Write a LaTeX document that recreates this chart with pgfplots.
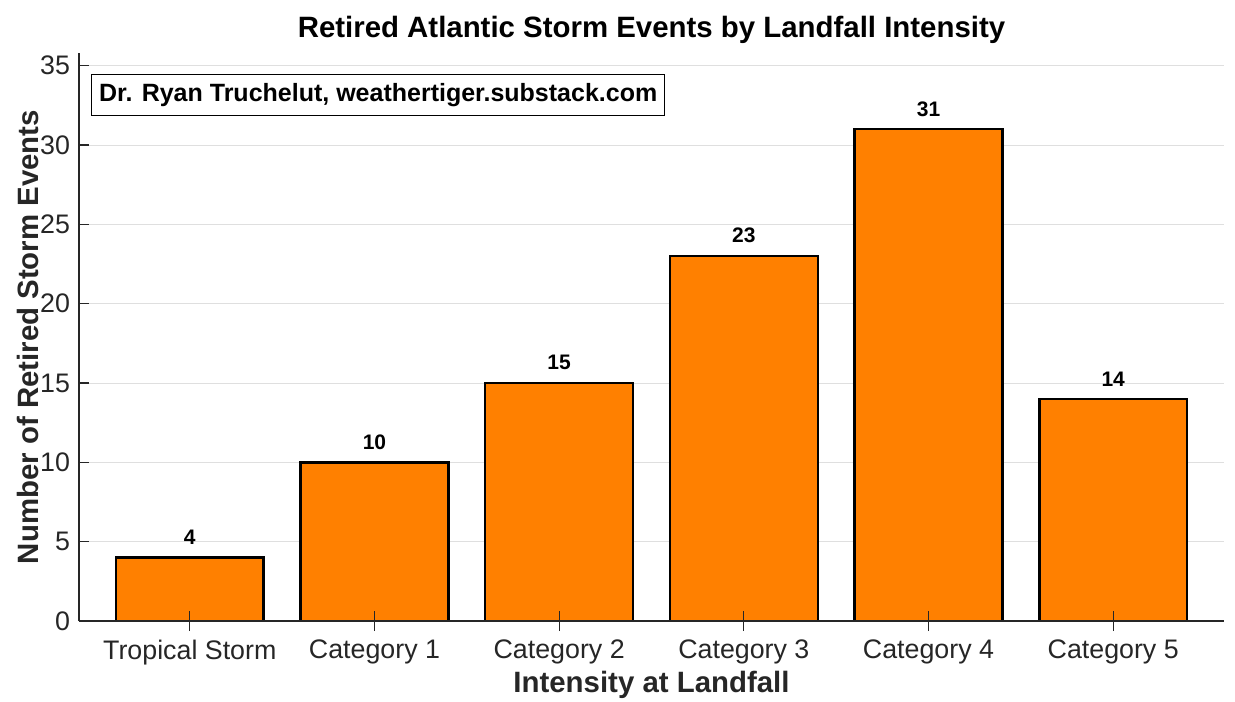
\documentclass[border=0pt]{standalone}
\usepackage{fontspec}
\setmainfont{Liberation Sans}
\usepackage{pgfplots}
\pgfplotsset{compat=1.18}
\definecolor{barorange}{RGB}{255,128,0}
\definecolor{ticktext}{RGB}{38,38,38}
\definecolor{gridgray}{RGB}{223,223,223}
\begin{document}
\begin{tikzpicture}
\begin{axis}[
  scale only axis,
  width=572.5pt, height=284pt,
  xmin=-0.6, xmax=5.6,
  ymin=0, ymax=35.8,
  axis x line*=bottom, axis y line*=left,
  axis line style={ticktext, line width=0.6pt},
  ytick={0,5,...,35},
  xtick={0,1,2,3,4,5},
  xticklabels={Tropical Storm,Category 1,Category 2,Category 3,Category 4,Category 5},
  tick align=inside,
  major tick length=5pt,
  tick style={ticktext, line width=0.6pt},
  ymajorgrids,
  grid style={gridgray, line width=0.5pt},
  ticklabel style={font=\fontsize{13.4}{15}\selectfont, text=ticktext},
  /pgf/number format/assume math mode=true,
  xticklabel style={yshift=-1pt},
  yticklabel style={xshift=-1pt},
  title={\textbf{Retired Atlantic Storm Events by Landfall Intensity}},
  title style={font=\fontsize{14.7}{17}\selectfont, at={(axis description cs:0.5,1)}, anchor=center, yshift=5.5pt},
  xlabel={\textbf{Intensity at Landfall}},
  ylabel={\textbf{Number of Retired Storm Events}},
  label style={font=\fontsize{14.7}{17}\selectfont, text=ticktext},
  xlabel style={at={(axis description cs:0.5,-0.1127)}, anchor=center},
  ylabel style={at={(axis description cs:-0.0445,0.5)}, anchor=center},
  ybar, bar width=0.8,
  nodes near coords,
  nodes near coords style={font=\bfseries\fontsize{10.5}{12}\selectfont, text=black, anchor=south, yshift=2.5pt},
  clip=false,
]
\addplot[fill=barorange, draw=black, line width=1.2pt, bar shift=0pt] coordinates {
(0,4) (1,10) (2,15) (3,23) (4,31) (5,14)
};
\node[draw=black, line width=0.6pt, fill=white, anchor=north west, inner xsep=3.8pt, minimum height=20.5pt, font=\bfseries\fontsize{12.5}{14}\selectfont, text=black]
  at ([xshift=6pt,yshift=-10.5pt]rel axis cs:0,1) {Dr. Ryan Truchelut, weathertiger.substack.com};
\end{axis}
\begin{axis}[
  scale only axis,
  width=572.5pt, height=284pt,
  xmin=-0.6, xmax=5.6,
  ymin=0, ymax=35.8,
  axis x line*=bottom, axis y line=none,
  axis line style={ticktext, line width=0.6pt},
  xtick={0,1,2,3,4,5},
  xticklabels={},
  tick align=inside,
  major tick length=5pt,
  tick style={ticktext, line width=0.6pt},
]
\end{axis}
\pgfresetboundingbox
\path[use as bounding box] ([xshift=-39.5pt,yshift=-40pt]current axis.south west) rectangle ([xshift=5.5pt,yshift=26.5pt]current axis.north east);
\end{tikzpicture}
\end{document}
